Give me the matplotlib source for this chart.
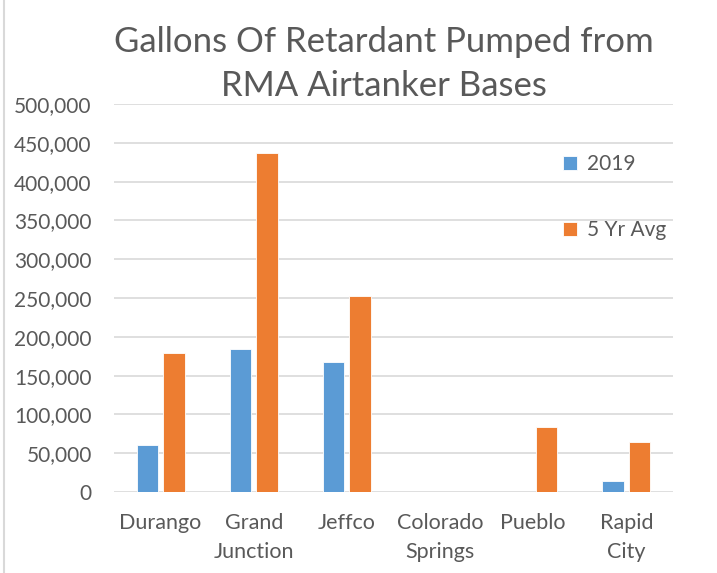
import numpy as np
import matplotlib
matplotlib.use("Agg")
from matplotlib import pyplot as plt
from matplotlib.ticker import FuncFormatter

plt.rcParams['font.family'] = ['Lato', 'DejaVu Sans']

bases = ["Durango", "Grand\nJunction", "Jeffco", "Colorado\nSprings", "Pueblo", "Rapid\nCity"]
gal_2019 = [61000, 184000, 167000, 0, 0, 14000]
gal_5yr = [179000, 437000, 252000, 0, 84000, 65000]
series_names = ["2019", "5 Yr Avg"]

blue = "#5B9BD5"
orange = "#ED7D31"
grey_text = "#595959"

fig = plt.figure(figsize=(7.17, 5.73), dpi=100)
ax = fig.add_axes([0.159, 0.1414, 0.7796, 0.677])

x = np.arange(len(bases))
w = 0.23
gap = 0.054
ax.bar(x - (w + gap) / 2, gal_2019, w, color=blue, label=series_names[0], zorder=3,
       edgecolor="white", linewidth=0.6)
ax.bar(x + (w + gap) / 2, gal_5yr, w, color=orange, label=series_names[1], zorder=3,
       edgecolor="white", linewidth=0.6)

ax.set_xlim(-0.5, len(bases) - 0.5)
ax.set_ylim(0, 500000)
ax.set_yticks(np.arange(0, 500001, 50000))
ax.yaxis.set_major_formatter(FuncFormatter(lambda v, p: f"{int(v):,}"))
ax.set_xticks(x)
ax.set_xticklabels(bases, linespacing=1.6)
ax.grid(axis="y", color="#d9d9d9", linewidth=1.2, zorder=0)
for s in ax.spines.values():
    s.set_visible(False)
ax.tick_params(axis="y", length=0, labelsize=15, colors=grey_text, pad=16)
ax.tick_params(axis="x", length=0, labelsize=15.5, colors=grey_text, pad=15)

ax.legend(loc="center left", bbox_to_anchor=(0.785, 0.76), frameon=False, fontsize=15,
          handlelength=0.65, handleheight=0.65, handletextpad=0.5, labelspacing=2.2,
          labelcolor=grey_text, borderpad=0)

fig.text(0.535, 0.888, "Gallons Of Retardant Pumped from\nRMA Airtanker Bases",
         ha="center", va="center", fontsize=25, color=grey_text, linespacing=1.45)

# chart border on the left edge
fig.add_artist(plt.Line2D([0.006, 0.006], [0, 1], color="#d9d9d9", linewidth=1.5,
                          transform=fig.transFigure))

fig.savefig("out.png", dpi=100)
